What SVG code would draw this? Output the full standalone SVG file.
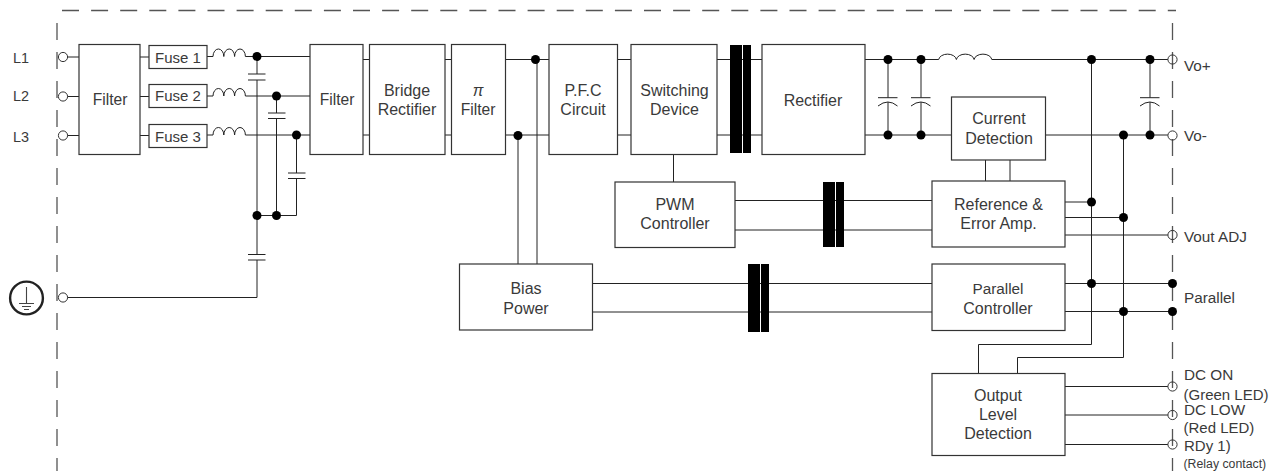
<svg xmlns="http://www.w3.org/2000/svg" width="1269" height="471" viewBox="0 0 1269 471">
<style>
text{font-family:"Liberation Sans",Arial,sans-serif;font-size:16px;fill:#3a3a3a}
.c{text-anchor:middle}
.f{font-size:15px}
.n{font-size:15.6px}
.r{font-size:15.3px}
.b{fill:#fff;stroke:#333;stroke-width:1.2}
.w{fill:none;stroke:#222;stroke-width:1}
.d{fill:#000}
.t{fill:none;stroke:#333;stroke-width:1}
.x{fill:#000}
.dash{fill:none;stroke:#555;stroke-width:1.3;stroke-dasharray:17 12}
</style>
<defs>
<circle id="dot" r="4.5" class="d"/>
<circle id="term" r="4.6" class="t"/>
</defs>
<g id="boundary">
<path class="dash" style="stroke-dasharray:17 12.1" d="M62 10.5H1176"/>
<path class="dash" d="M57 23V471"/>
<path class="dash" d="M1172.5 23V471"/>
</g>
<g id="connectors">
<path class="w" d="M67.5 57H79M67.5 96.5H79M67.5 135.5H79M140 57H149M140 96.5H149M140 135.5H149M207 56.5H213M207 96H213M207 135H213"/>
<path class="w" d="M213 56.5a5.4 7.5 0 0 1 10.8 0a5.4 7.5 0 0 1 10.8 0a5.4 7.5 0 0 1 10.8 0H310M213 96a5.4 7.5 0 0 1 10.8 0a5.4 7.5 0 0 1 10.8 0a5.4 7.5 0 0 1 10.8 0H310M213 135a5.4 7.5 0 0 1 10.8 0a5.4 7.5 0 0 1 10.8 0a5.4 7.5 0 0 1 10.8 0H310"/>
<path class="w" d="M257 56.5V74M248 74H265.5M248 80H265.5M257 80V254.5M248 254.5H265.5M248 260H265.5M257 260V297.5H67.5M276.5 96V113M268 113H285.5M268 118.5H285.5M276.5 118.5V215.5M296.5 135V173M288 173H305.5M288 178.5H305.5M296.5 178.5V215.5H257"/>
<path class="w" d="M363 59.5H369M363 135H369M445 59.5H451M445 135H451M505.5 59.5H549M505.5 135H549M617.5 59.5H631M617.5 135H631M717 59.5H762M717 135H762"/>
<path class="w" d="M537 59.5V264M518 135V264M673.5 155V182M735 200.5H932M735 230H932M593 283.5H932M593 312H932"/>
<path class="w" d="M865 59.5H938.7a8.9 6 0 0 1 17.7 0a8.9 6 0 0 1 17.7 0a8.9 6 0 0 1 17.7 0H1167.9M865 135H951.5M1045.5 135H1167.9"/>
<path class="w" d="M888 59.5V97.7M878 97.7H897.5M878 106Q888 98 897.5 106M888 102V135M921 59.5V97.7M911 97.7H930.5M911 106Q921 98 930.5 106M921 102V135M1150 59.5V97.7M1140 97.7H1159.5M1140 106Q1150 98 1159.5 106M1150 102V135"/>
<path class="w" d="M985.5 160V181M1010 160V181M1065 202H1091.5M1065 217.5H1123.5M1065 235H1167.9M1065 283.5H1172.5M1065 311.5H1172.5"/>
<path class="w" d="M1091.5 59.5V344.5H978.5V373.5M1123.5 135V357.5H1017.5V373.5M1065 386.5H1167.9M1065 415H1167.9M1065 444.5H1167.9"/>
<use href="#dot" x="257" y="56.5"/><use href="#dot" x="276.5" y="96"/><use href="#dot" x="296.5" y="135"/><use href="#dot" x="257" y="215.5"/><use href="#dot" x="276.5" y="215.5"/>
<use href="#dot" x="535.5" y="59.5"/><use href="#dot" x="518" y="135.5"/>
<use href="#dot" x="888" y="59.5"/><use href="#dot" x="921" y="59.5"/><use href="#dot" x="1091.5" y="59.5"/><use href="#dot" x="1150" y="59.5"/>
<use href="#dot" x="888" y="135"/><use href="#dot" x="921" y="135"/><use href="#dot" x="1123.5" y="135"/><use href="#dot" x="1150" y="135"/>
<use href="#dot" x="1091.5" y="202"/><use href="#dot" x="1123.5" y="217.5"/><use href="#dot" x="1091.5" y="283.5"/><use href="#dot" x="1123.5" y="311.5"/><use href="#dot" x="1172.5" y="283.5"/><use href="#dot" x="1172.5" y="311.5"/>
<use href="#term" x="63" y="57"/><use href="#term" x="63" y="96.5"/><use href="#term" x="63" y="135.5"/><use href="#term" x="63" y="297.5"/>
<use href="#term" x="1172.5" y="59.5"/><use href="#term" x="1172.5" y="135.5"/><use href="#term" x="1172.5" y="235"/><use href="#term" x="1172.5" y="386.5"/><use href="#term" x="1172.5" y="415"/><use href="#term" x="1172.5" y="444.5"/>
</g>
<g id="transformer-main"><rect class="x" x="730" y="45" width="12" height="108"/><rect class="x" x="743" y="45" width="8" height="108"/></g>
<g id="transformer-pwm"><rect class="x" x="823" y="182" width="12" height="65"/><rect class="x" x="836" y="182" width="8" height="65"/></g>
<g id="transformer-bias"><rect class="x" x="748" y="264" width="12" height="68"/><rect class="x" x="761" y="264" width="8" height="68"/></g>
<g id="earth">
<circle cx="26.5" cy="298" r="16.4" fill="none" stroke="#222" stroke-width="2.4"/>
<path fill="none" stroke="#444" stroke-width="1.1" d="M26.5 287V303M19 303.5H34M22 306.5H31M24 309.5H29"/>
</g>
<g id="label-L1"><text class="f" x="13" y="63" style="font-size:14.4px">L1</text></g>
<g id="label-L2"><text class="f" x="13" y="101" style="font-size:14.4px">L2</text></g>
<g id="label-L3"><text class="f" x="13" y="141.5" style="font-size:14.4px">L3</text></g>
<g id="filter1"><rect class="b" x="79" y="44.5" width="61" height="110"/><text class="c n" x="110" y="105">Filter</text></g>
<g id="fuse1"><rect class="b" x="149" y="45.5" width="58" height="23"/><text class="c f" x="178" y="63">Fuse 1</text></g>
<g id="fuse2"><rect class="b" x="149" y="84.5" width="58" height="23"/><text class="c f" x="178" y="101">Fuse 2</text></g>
<g id="fuse3"><rect class="b" x="149" y="124.5" width="58" height="23"/><text class="c f" x="178" y="141.5">Fuse 3</text></g>
<g id="filter2"><rect class="b" x="310" y="44.5" width="53" height="110"/><text class="c n" x="337" y="105">Filter</text></g>
<g id="bridge"><rect class="b" x="369.5" y="44.5" width="75.5" height="110"/><text class="c" x="407" y="96">Bridge</text><text class="c" x="407" y="115">Rectifier</text></g>
<g id="pi-filter"><rect class="b" x="451.5" y="44.5" width="54" height="110"/><text class="c" x="478" y="96" font-style="italic">π</text><text class="c n" x="478" y="115">Filter</text></g>
<g id="pfc"><rect class="b" x="549" y="44.5" width="68.5" height="110"/><text class="c" x="583" y="96">P.F.C</text><text class="c" x="583" y="115">Circuit</text></g>
<g id="switching"><rect class="b" x="631" y="44.5" width="86" height="110"/><text class="c" x="674.5" y="96">Switching</text><text class="c" x="674.5" y="115">Device</text></g>
<g id="rectifier"><rect class="b" x="762" y="44.5" width="103" height="110"/><text class="c" x="813" y="106">Rectifier</text></g>
<g id="pwm"><rect class="b" x="615" y="182" width="120" height="65.5"/><text class="c" x="675" y="210">PWM</text><text class="c" x="675" y="229">Controller</text></g>
<g id="bias"><rect class="b" x="459.5" y="264" width="133" height="66"/><text class="c" x="526" y="294">Bias</text><text class="c" x="526" y="314">Power</text></g>
<g id="current"><rect class="b" x="951.5" y="97" width="94" height="63"/><text class="c" x="999" y="124">Current</text><text class="c" x="999" y="144">Detection</text></g>
<g id="reference"><rect class="b" x="932" y="181" width="133" height="66"/><text class="c" x="998.5" y="210">Reference &amp;</text><text class="c" x="998.5" y="229">Error Amp.</text></g>
<g id="parallel"><rect class="b" x="932" y="264" width="133" height="66.5"/><text class="c r" x="998" y="294">Parallel</text><text class="c" x="998" y="314">Controller</text></g>
<g id="output"><rect class="b" x="932" y="373.5" width="133" height="82"/><text class="c" x="998" y="400.5">Output</text><text class="c" x="998" y="420">Level</text><text class="c" x="998" y="438.5">Detection</text></g>
<g id="labels-right">
<text class="r" x="1184" y="70.5">Vo+</text>
<text class="r" x="1184" y="140.5">Vo-</text>
<text class="r" x="1184" y="242">Vout ADJ</text>
<text class="r" x="1184" y="303">Parallel</text>
<text class="r" x="1184" y="380">DC ON</text>
<text class="f" x="1183.5" y="399.5">(Green LED)</text>
<text class="r" x="1184" y="415">DC LOW</text>
<text class="f" x="1183.5" y="433">(Red LED)</text>
<text class="f" x="1184" y="450.5">RDy 1)</text>
<text x="1183.5" y="468" style="font-size:12.3px">(Relay contact)</text>
</g>
</svg>
